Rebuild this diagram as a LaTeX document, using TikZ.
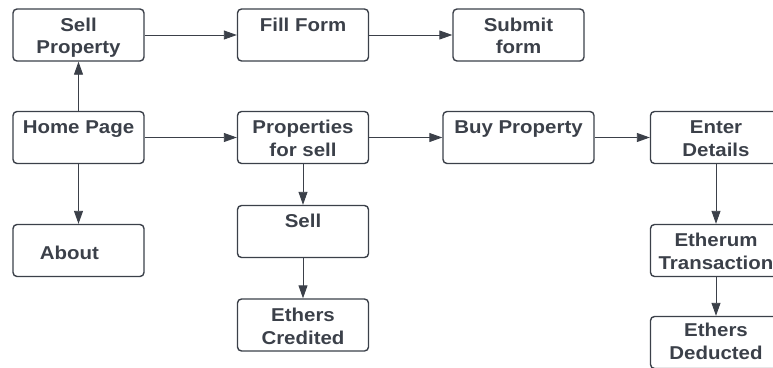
\documentclass[tikz,border=0pt]{standalone}
\usepackage{fontspec}
\newfontfamily\lblfont[FakeStretch=1.1]{Liberation Sans}
\usetikzlibrary{arrows.meta}
\definecolor{ink}{HTML}{3B4049}
\begin{document}
\begin{tikzpicture}[x=1pt,y=-1pt,
  stepbox/.style={draw=ink, line width=1.4pt, rounded corners=4pt,
    minimum width=131pt, minimum height=52pt, inner sep=0pt},
  lbl/.style={text=ink, font=\lblfont\bfseries\fontsize{18.6}{22.7}\selectfont,
    align=center, inner sep=0pt, anchor=base},
  flow/.style={draw=ink, line width=0.9pt, -{Triangle[length=13pt,width=9pt]}}]
\useasboundingbox (0,0) rectangle (773,367);

% boxes
\node[stepbox] (sellprop) at (78.5,35) {};
\node[stepbox] (fill)     at (303,35) {};
\node[stepbox] (submit)   at (518.5,35) {};
\node[stepbox] (home)     at (78.5,137.5) {};
\node[stepbox] (props)    at (303,137.5) {};
\node[stepbox, minimum width=151pt] (buy) at (518.5,137.5) {};
\node[stepbox] (enter)    at (716,137.5) {};
\node[stepbox] (about)    at (78.5,250.5) {};
\node[stepbox] (sell)     at (303,231.5) {};
\node[stepbox] (credited) at (303,325) {};
\node[stepbox] (trans)    at (716,250.5) {};
\node[stepbox] (deducted) at (716,342.5) {};

% labels near the top of each box (base = baseline of the last line)
\node[lbl] (tsellprop) at ([yshift=-45.4pt]sellprop.north) {Sell\\Property};
\node[lbl] (tfill)     at ([yshift=-22.7pt]fill.north) {Fill Form};
\node[lbl] (tsubmit)   at ([yshift=-45.4pt]submit.north) {Submit\\form};
\node[lbl] (thome)     at ([yshift=-23pt]home.north) {Home Page};
\node[lbl] (tprops)    at ([yshift=-45.5pt]props.north) {Properties\\for sell};
\node[lbl] (tbuy)      at ([yshift=-22.3pt]buy.north) {Buy Property};
\node[lbl] (tenter)    at ([yshift=-45.5pt]enter.north) {Enter\\Details};
\node[lbl] (tabout)    at ([xshift=-9pt,yshift=-35.5pt]about.north) {About};
\node[lbl] (tsell)     at ([yshift=-22.3pt]sell.north) {Sell};
\node[lbl] (tcredited) at ([yshift=-46pt]credited.north) {Ethers\\Credited};
\node[lbl] (ttrans)    at ([yshift=-45.2pt]trans.north) {Etherum\\Transaction};
\node[lbl] (tdeducted) at ([yshift=-43.8pt]deducted.north) {Ethers\\Deducted};

% connectors
\draw[flow] (sellprop) -- (fill);
\draw[flow] (fill) -- (submit);
\draw[flow] (home) -- (sellprop);
\draw[flow] (home) -- (props);
\draw[flow] (home) -- (about);
\draw[flow] (props) -- (buy);
\draw[flow] (buy) -- (enter);
\draw[flow] (props) -- (sell);
\draw[flow] (sell) -- (credited);
\draw[flow] (enter) -- (trans);
\draw[flow] (trans) -- (deducted);
\end{tikzpicture}
\end{document}
